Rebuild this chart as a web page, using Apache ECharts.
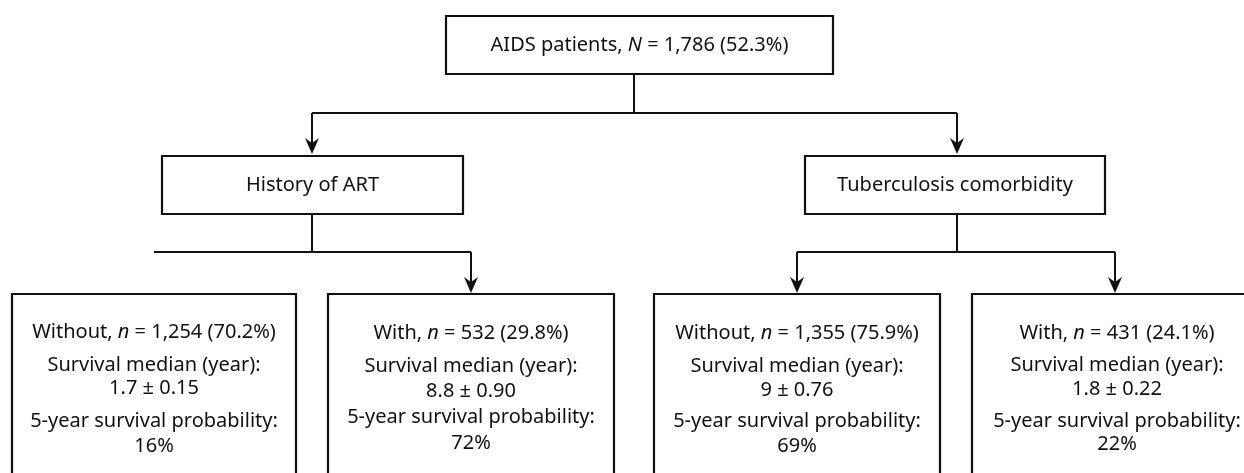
<!DOCTYPE html>
<html>
<head>
<meta charset="utf-8">
<script src="https://cdn.jsdelivr.net/npm/echarts@6.0.0/dist/echarts.min.js"></script>
<style>
  html, body { margin: 0; padding: 0; background: #fff; }
  #chart { width: 1244px; height: 473px; }
</style>
</head>
<body>
<div id="chart"></div>
<script>
// flowchart data
const totalN = '1,786';
const totalPct = 52.3;
const groupNames = ['History of ART', 'Tuberculosis comorbidity'];
const leafLabels = ['Without', 'With', 'Without', 'With'];
const leafN = ['1,254', '532', '1,355', '431'];
const leafPct = [70.2, 29.8, 75.9, 24.1];
const medianYears = ['1.7', '8.8', '9', '1.8'];
const medianSE = ['0.15', '0.90', '0.76', '0.22'];
const fiveYearSurvival = [16, 72, 69, 22];

// layout (canvas units, y grows downward)
const topBox = [446, 16, 833, 74];
const groupBoxes = [[162, 156, 463, 214], [805, 156, 1105, 214]];
const leafBoxes = [[12, 294, 296, 495], [328, 294, 614, 495], [654, 294, 940, 495], [972, 294, 1262, 495]];
const leafLineY = [
  [332, 365, 388, 421, 446],
  [333, 366, 391, 417, 443],
  [333, 366, 390, 421, 446],
  [333, 365, 389, 421, 444]
];
// connectors: x1, y1, x2, y2, arrow (1 = arrow at end)
const connectors = [
  [634, 74, 634, 113, 0],
  [312, 113, 957, 113, 0],
  [312, 113, 312, 154, 1],
  [957, 113, 957, 154, 1],
  [312, 214, 312, 252, 0],
  [154, 252, 471, 252, 0],
  [471, 252, 471, 293, 1],
  [957, 214, 957, 252, 0],
  [797, 252, 1115, 252, 0],
  [797, 252, 797, 293, 1],
  [1115, 252, 1115, 293, 1]
];

const FONT = '"Noto Sans", "Open Sans", sans-serif';
const FS = 20;
const INK = '#111';
const rich = { i: { fontStyle: 'italic', fontSize: FS, fontFamily: FONT, fill: INK } };

const boxes = [];
boxes.push({ box: topBox, lines: [`AIDS patients, {i|N} = ${totalN} (${totalPct}%)`], ys: [45] });
groupBoxes.forEach((b, i) => boxes.push({ box: b, lines: [groupNames[i]], ys: [185] }));
leafBoxes.forEach((b, i) => boxes.push({
  box: b,
  lines: [
    `${leafLabels[i]}, {i|n} = ${leafN[i]} (${leafPct[i].toFixed(1)}%)`,
    'Survival median (year):',
    `${medianYears[i]} ± ${medianSE[i]}`,
    '5-year survival probability:',
    `${fiveYearSurvival[i]}%`
  ],
  ys: leafLineY[i]
}));

const chart = echarts.init(document.getElementById('chart'), null, { renderer: 'canvas' });

chart.setOption({
  animation: false,
  backgroundColor: '#fff',
  grid: { left: 0, right: 0, top: 0, bottom: 0 },
  xAxis: { type: 'value', min: 0, max: 1244, show: false },
  yAxis: { type: 'value', min: 0, max: 473, inverse: true, show: false },
  series: [
    {
      type: 'custom',
      clip: true,
      data: connectors,
      renderItem: (params, api) => {
        const p1 = api.coord([api.value(0), api.value(1)]);
        const p2 = api.coord([api.value(2), api.value(3)]);
        const children = [];
        if (api.value(4)) {
          const tip = p2;
          const back = [tip[0], tip[1] - 11];
          children.push({
            type: 'line',
            shape: { x1: p1[0], y1: p1[1], x2: back[0], y2: back[1] },
            style: { stroke: INK, lineWidth: 2 }
          });
          children.push({
            type: 'polygon',
            shape: { points: [tip, [tip[0] - 7, tip[1] - 16], back, [tip[0] + 7, tip[1] - 16]] },
            style: { fill: INK }
          });
        } else {
          children.push({
            type: 'line',
            shape: { x1: p1[0], y1: p1[1], x2: p2[0], y2: p2[1] },
            style: { stroke: INK, lineWidth: 2 }
          });
        }
        return { type: 'group', children };
      }
    },
    {
      type: 'custom',
      clip: true,
      data: boxes.map(d => d.box),
      renderItem: (params, api) => {
        const d = boxes[params.dataIndex];
        const a = api.coord([api.value(0), api.value(1)]);
        const b = api.coord([api.value(2), api.value(3)]);
        const cx = (a[0] + b[0]) / 2;
        const children = [{
          type: 'rect',
          shape: { x: a[0], y: a[1], width: b[0] - a[0], height: b[1] - a[1] },
          style: { fill: '#fff', stroke: INK, lineWidth: 2.2 }
        }];
        d.lines.forEach((t, k) => {
          const y = api.coord([0, d.ys[k]])[1];
          children.push({
            type: 'text',
            style: {
              text: t,
              x: cx,
              y: y,
              align: 'center',
              verticalAlign: 'middle',
              fontSize: FS,
              fontFamily: FONT,
              fill: INK,
              rich: rich
            }
          });
        });
        return { type: 'group', children };
      }
    }
  ]
});

window.addEventListener('resize', () => chart.resize());
</script>
</body>
</html>
